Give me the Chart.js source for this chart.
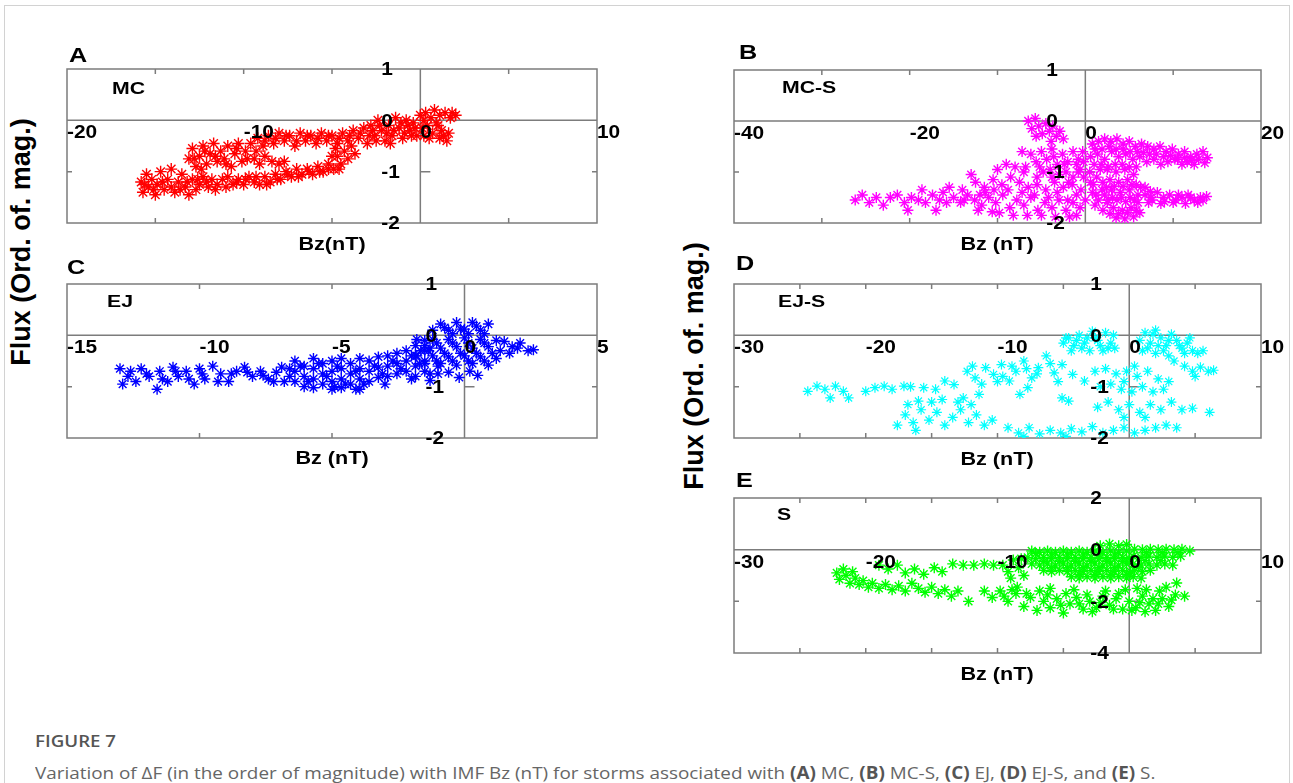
<!DOCTYPE html>
<html>
<head>
<meta charset="utf-8">
<title>Figure 7</title>
<script src="https://cdn.jsdelivr.net/npm/chart.js@4.4.0/dist/chart.umd.min.js"></script>
<style>
  html, body { margin: 0; padding: 0; background: #fff; }
  body { position: relative; width: 1293px; height: 783px; overflow: hidden; font-family: "Liberation Sans", Arial, sans-serif; }
  .frame { position: absolute; left: 4px; top: 5px; width: 1284px; height: 820px; border: 1px solid #d2d2d2; }
  .txt { position: absolute; font-weight: bold; color: #000; line-height: 1; white-space: nowrap; transform-origin: 0 0; }
  .ytitle { position: absolute; font-weight: bold; font-size: 27px; line-height: 1; white-space: nowrap; color: #000;
            transform: translate(-50%, -50%) rotate(-90deg); }
  canvas { position: absolute; }
  .fig { position: absolute; left: 35px; top: 732px; font-family: "Open Sans", sans-serif; font-size: 17px; line-height: 1;
         font-weight: 600; color: #555; transform-origin: 0 0; transform: scaleX(1.1); }
  .cap { position: absolute; left: 35px; top: 764px; font-family: "Open Sans", sans-serif; font-size: 17px; line-height: 1;
         color: #666; white-space: nowrap; transform-origin: 0 0; transform: scaleX(1.11); }
  .cap b { font-weight: 700; color: #555; }
</style>
</head>
<body>
<div class="frame"></div>
<div class="ytitle" style="left:21px; top:242px;">Flux (Ord. of. mag.)</div>
<div class="ytitle" style="left:694px; top:366px;">Flux (Ord. of. mag.)</div>
<div class="fig">FIGURE 7</div>
<div class="cap">Variation of ΔF (in the order of magnitude) with IMF Bz (nT) for storms associated with <b>(A)</b> MC, <b>(B)</b> MC-S, <b>(C)</b> EJ, <b>(D)</b> EJ-S, and <b>(E)</b> S.</div>

<script>
// ---- tick values ----
const aXTicks = [-20, -15, -10, -5, 0, 5, 10];
const aXLabels = [-20, -10, 0, 10];
const bXTicks = [-40, -30, -20, -10, 0, 10, 20];
const bXLabels = [-40, -20, 0, 20];
const cXTicks = [-15, -10, -5, 0, 5];
const cXLabels = [-15, -10, -5, 0, 5];
const deXTicks = [-30, -25, -20, -15, -10, -5, 0, 5, 10];
const deXLabels = [-30, -20, -10, 0, 10];
const fluxTicks = [-2, -1, 0, 1];
const sFluxTicks = [-4, -2, 0, 2];

// ---- (Bz, flux) points ----
const mcPoints = [
  [-15.8,-1.2],[-15.7,-1.4],[-15.5,-1.05],[-15.4,-1.3],[-15.2,-1.15],[-15.0,-1.45],[-14.9,-1.25],[-14.7,-1.0],
  [-14.5,-1.35],[-14.3,-1.15],[-14.1,-0.95],[-13.9,-1.4],[-13.7,-1.2],[-13.5,-1.05],[-13.3,-1.3],[-13.1,-1.45],
  [-12.9,-1.15],[-12.7,-1.35],[-12.5,-1.25],[-12.3,-1.1],[-12.0,-1.3],[-11.8,-1.15],[-11.5,-1.25],[-11.2,-1.15],
  [-10.9,-1.1],[-10.6,-1.25],[-10.3,-1.15],[-10.0,-1.25],[-9.7,-1.1],[-9.4,-1.2],[-9.1,-1.25],[-8.8,-1.1],
  [-8.5,-1.2],[-8.2,-1.05],[-7.9,-1.15],[-7.6,-1.0],[-7.3,-1.1],[-7.0,-0.95],[-6.7,-1.05],[-6.4,-0.95],
  [-6.1,-1.05],[-5.8,-0.9],[-5.5,-1.0],[-5.2,-0.85],[-4.9,-0.95],[-5.0,-0.7],[-4.8,-0.55],[-4.7,-0.7],
  [-4.5,-0.85],[-4.3,-0.6],[-4.1,-0.75],[-3.9,-0.5],[-3.7,-0.65],
  [-15.6,-1.25],[-15.1,-1.35],[-14.6,-1.2],[-14.1,-1.3],[-13.6,-1.35],[-13.2,-1.2],[-12.6,-1.15],[-12.1,-1.2],
  [-11.6,-1.35],[-11.0,-1.3],[-10.4,-1.2],[-9.9,-1.15],[-9.3,-1.1],[-8.7,-1.25],[-8.1,-1.15],[-7.5,-1.05],
  [-6.9,-1.1],[-6.3,-1.0],[-5.7,-1.0],[-5.2,-0.95],[-4.6,-0.95],
  [-13.1,-0.75],[-12.9,-0.55],[-12.7,-0.9],[-12.5,-0.7],[-12.3,-0.5],[-12.1,-0.85],[-11.9,-0.65],[-11.7,-0.45],
  [-11.5,-0.8],[-11.3,-0.6],[-11.1,-0.75],[-10.9,-0.5],[-10.7,-0.9],[-10.5,-0.65],[-10.3,-0.45],[-10.1,-0.8],
  [-9.9,-0.6],[-9.6,-0.45],[-9.4,-0.75],[-9.1,-0.85],[-8.8,-0.7],[-8.4,-0.8],[-8.0,-0.85],[-7.7,-0.8],
  [-12.8,-0.75],[-12.2,-0.6],[-11.6,-0.7],[-11.0,-0.85],[-10.4,-0.55],[-9.8,-0.75],[-9.3,-0.6],[-12.4,-0.95],
  [-9.2,-0.35],[-8.9,-0.5],[-8.6,-0.3],[-8.3,-0.45],[-8.0,-0.25],[-7.7,-0.4],[-7.4,-0.3],[-7.1,-0.5],
  [-6.8,-0.25],[-6.5,-0.4],[-6.2,-0.3],[-5.9,-0.45],[-5.6,-0.25],[-5.3,-0.4],[-5.0,-0.3],[-4.7,-0.45],
  [-4.4,-0.25],[-4.1,-0.4],[-3.8,-0.2],[-3.5,-0.35],[-3.2,-0.15],[-3.0,-0.45],
  [-8.8,-0.4],[-8.2,-0.35],[-7.6,-0.3],[-7.0,-0.4],[-6.4,-0.3],[-5.8,-0.35],[-5.2,-0.3],[-4.6,-0.35],
  [-4.0,-0.3],[-3.4,-0.25],[-2.9,-0.3],
  [-2.8,-0.1],[-2.6,-0.3],[-2.4,0.0],[-2.2,-0.2],[-2.0,-0.4],[-1.8,-0.1],[-1.6,-0.3],[-1.4,0.05],
  [-1.2,-0.15],[-1.0,-0.35],[-0.8,0.0],[-0.6,-0.2],[-0.4,-0.05],[-0.2,-0.3],[0.0,0.1],[0.1,-0.15],
  [-2.7,-0.2],[-2.3,-0.1],[-1.9,-0.25],[-1.5,-0.2],[-1.1,-0.05],[-0.7,-0.1],[-0.3,-0.15],[0.2,0.0],
  [-2.5,-0.4],[-1.7,-0.45],[-0.9,-0.25],[-0.5,-0.3],[0.9,-0.05],[1.8,0.15],[1.2,-0.2],[0.2,-0.3],
  [0.3,0.15],[0.6,0.05],[0.8,0.2],[1.1,0.1],[1.4,0.15],[1.7,0.05],[2.0,0.1],[0.4,-0.1],
  [0.7,-0.25],[1.0,-0.1],[1.3,-0.3],[1.6,-0.25],[0.5,-0.35],[1.1,-0.35],[1.5,-0.4]
];

const mcsPoints = [
  [-6.5,0.0],[-6.1,-0.15],[-5.7,0.05],[-5.3,-0.1],[-4.9,-0.25],[-4.5,-0.05],[-4.1,-0.2],[-3.7,-0.1],
  [-3.3,-0.3],[-2.9,-0.2],[-2.5,-0.35],[-5.6,-0.3],[-3.9,-0.4],
  [-7.2,-0.6],[-6.2,-0.65],[-5.6,-0.8],[-5.0,-0.6],[-4.4,-0.75],[-3.8,-0.55],[-3.2,-0.85],[-2.6,-0.65],
  [-2.0,-0.8],[-1.4,-0.6],[-0.8,-0.75],[-0.3,-0.6],[-4.8,-1.0],[-4.0,-0.95],[-3.0,-1.05],[-2.2,-1.0],
  [-1.4,-1.1],[-0.6,-0.95],[-5.5,-1.1],
  [-6.8,-0.9],[-5.2,-0.9],[-3.6,-0.7],[-2.4,-0.85],[-1.0,-0.85],[-0.2,-0.8],[-1.9,-1.2],[-3.8,-1.1],
  [-0.2,-1.1],[-1.0,-1.45],[-2.0,-1.55],[-3.2,-1.4],[-4.2,-1.5],[-5.8,-1.45],[-7.2,-1.4],[-8.8,-1.35],
  [-10.4,-1.35],[-12.0,-1.45],[-13.8,-1.55],[-0.8,-1.0],
  [0.8,-0.45],[1.5,-0.4],[2.2,-0.35],[2.9,-0.4],[3.6,-0.35],[4.3,-0.45],[5.0,-0.4],[5.7,-0.5],
  [6.4,-0.45],[7.1,-0.5],[7.8,-0.55],[8.5,-0.5],[9.2,-0.6],[9.9,-0.55],[10.6,-0.65],[11.3,-0.6],
  [12.0,-0.7],[12.7,-0.65],[13.4,-0.6],[13.9,-0.72],
  [0.6,-0.7],[1.4,-0.65],[2.2,-0.75],[3.0,-0.6],[3.8,-0.7],[4.6,-0.65],[5.4,-0.75],[6.2,-0.7],
  [7.0,-0.8],[7.8,-0.75],[8.6,-0.85],[9.4,-0.8],[10.2,-0.75],[11.0,-0.85],[11.6,-0.8],[12.4,-0.85],
  [1.1,-0.55],[1.9,-0.55],[2.7,-0.5],[3.5,-0.55],[4.3,-0.55],[5.1,-0.6],[5.9,-0.6],[1.0,-0.85],
  [1.8,-0.85],[2.6,-0.9],[3.4,-0.85],[4.2,-0.85],[5.0,-0.9],[5.8,-0.9],[6.6,-0.62],
  [7.3,-0.65],[8.1,-0.65],[8.9,-0.7],[9.7,-0.68],[10.5,-0.75],[11.3,-0.72],[12.1,-0.78],[12.9,-0.75],[13.6,-0.82],
  [0.5,-1.0],[1.3,-1.1],[0.9,-1.25],[1.7,-0.95],[0.6,-1.2],
  [2.5,-0.95],[3.5,-1.0],[4.5,-0.95],[5.5,-1.05],[2.8,-1.15],[3.8,-1.2],[4.8,-1.15],[5.8,-1.25],
  [3.0,-1.35],[4.0,-1.4],[5.0,-1.35],[6.0,-1.45],
  [2.0,-1.2],[2.4,-1.3],[3.3,-1.28],[4.3,-1.28],[5.3,-1.25],[6.3,-1.3],[6.8,-1.3],[7.4,-1.38],
  [0.8,-1.4],[1.5,-1.55],[2.2,-1.45],[6.8,-1.45],[7.5,-1.5],[8.2,-1.4],[8.9,-1.5],[9.6,-1.45],
  [10.3,-1.55],[11.0,-1.5],[11.7,-1.45],[12.4,-1.55],[13.1,-1.5],[13.8,-1.48],[7.2,-1.6],[8.6,-1.62],
  [10.0,-1.6],[11.4,-1.62],[12.8,-1.6],[7.6,-1.55],[9.0,-1.58],[10.6,-1.45],[12.0,-1.5],[13.4,-1.55],
  [1.2,-1.45],[1.9,-1.35],[2.6,-1.55],[3.1,-1.5],[4.1,-1.5],[5.1,-1.5],[6.0,-1.6],[1.1,-1.65],
  [2.0,-1.75],[2.5,-1.6],[3.2,-1.7],[4.2,-1.75],[5.2,-1.7],[6.2,-1.8],[3.5,-1.9],[4.5,-1.92],
  [5.5,-1.88],[3.6,-1.55],[4.6,-1.58],[5.6,-1.55],[2.8,-1.82],[3.8,-1.82],[4.8,-1.8],[5.8,-1.75],
  [-26.2,-1.55],[-25.4,-1.45],[-24.6,-1.6],[-23.8,-1.5],[-23.0,-1.65],[-22.2,-1.5],[-21.4,-1.45],[-20.6,-1.6],
  [-19.8,-1.5],[-19.0,-1.55],[-18.2,-1.6],[-17.4,-1.45],[-16.6,-1.55],[-15.8,-1.6],[-15.0,-1.5],[-14.2,-1.6],
  [-13.4,-1.45],[-12.6,-1.55],[-11.8,-1.65],[-11.0,-1.5],[-10.2,-1.6],[-9.4,-1.45],[-8.6,-1.7],[-7.8,-1.55],
  [-7.0,-1.65],[-6.2,-1.5],[-5.4,-1.75],[-4.6,-1.6],[-3.8,-1.7],[-3.0,-1.55],[-2.2,-1.75],[-1.4,-1.6],
  [-0.6,-1.7],[0.0,-1.55],
  [-20.2,-1.75],[-18.6,-1.35],[-17.0,-1.75],[-16.2,-1.4],[-12.2,-1.75],[-11.4,-1.4],[-10.6,-1.78],[-9.8,-1.8],
  [-8.2,-1.85],[-6.6,-1.85],[-5.0,-1.85],[-3.4,-1.88],[-1.8,-1.88],[-1.0,-1.85],
  [-15.5,-1.3],[-14.0,-1.35],[-12.5,-1.2],[-11.5,-1.3],[-10.5,-1.15],[-9.5,-1.25],[-8.5,-1.1],[-7.5,-1.2],
  [-6.5,-1.3],[-5.5,-1.25],[-4.5,-1.35],[-3.5,-1.2],[-2.5,-1.3],[-1.5,-1.25],[-0.5,-1.35],[-13.0,-1.05],
  [-10.0,-0.95],[-8.0,-0.9],[-7.0,-1.0],[-9.0,-0.85]
];

const ejPoints = [
  [-13.0,-0.65],[-12.9,-0.95],[-12.6,-0.7],[-12.4,-0.9],[-12.2,-0.65],[-11.9,-0.8],[-11.6,-1.05],[-11.5,-0.7],
  [-11.2,-0.9],[-11.0,-0.62],[-10.8,-0.8],[-10.5,-0.7],[-10.2,-0.95],[-10.0,-0.65],[-9.8,-0.85],[-9.5,-0.6],
  [-9.2,-0.75],[-8.9,-0.9],[-8.6,-0.7],[-8.3,-0.62],[-8.0,-0.8],[-7.7,-0.7],[-7.4,-0.85],[-7.1,-0.72],
  [-6.8,-0.9],[-6.6,-0.65],
  [-12.7,-0.8],[-12.0,-0.75],[-11.4,-0.85],[-10.9,-0.7],[-10.4,-0.85],[-9.9,-0.75],[-9.3,-0.9],[-8.8,-0.75],
  [-8.2,-0.72],[-7.6,-0.78],[-7.2,-0.9],[-6.9,-0.62],
  [-6.4,-0.5],[-6.4,-0.7],[-6.4,-0.9],[-6.05,-0.6],[-6.05,-0.8],[-6.05,-1.0],
  [-5.7,-0.45],[-5.7,-0.65],[-5.7,-0.85],[-5.7,-1.02],[-5.35,-0.55],[-5.35,-0.75],[-5.35,-0.95],
  [-5.0,-0.5],[-5.0,-0.7],[-5.0,-0.9],[-5.0,-1.05],[-4.65,-0.45],[-4.65,-0.65],[-4.65,-0.85],[-4.65,-1.02],
  [-4.3,-0.55],[-4.3,-0.75],[-4.3,-0.95],[-3.95,-0.45],[-3.95,-0.65],[-3.95,-0.85],[-3.95,-1.05],
  [-3.6,-0.5],[-3.6,-0.7],[-3.6,-0.9],[-3.25,-0.42],[-3.25,-0.62],[-3.25,-0.82],
  [-2.9,-0.4],[-2.9,-0.6],[-2.9,-0.8],[-2.55,-0.35],[-2.55,-0.55],[-2.55,-0.75],
  [-2.2,-0.3],[-2.2,-0.5],[-2.2,-0.7],[-1.85,-0.2],[-1.85,-0.4],[-1.85,-0.6],[-1.85,-0.8],
  [-1.5,-0.1],[-1.5,-0.3],[-1.5,-0.5],[-1.5,-0.7],
  [-6.2,-0.6],[-5.9,-0.9],[-5.5,-0.55],[-5.2,-0.8],[-4.8,-0.6],[-4.5,-0.95],[-4.1,-0.7],[-3.8,-0.95],
  [-3.4,-0.6],[-3.1,-0.75],[-2.7,-0.5],[-2.4,-0.65],[-2.0,-0.4],[-1.7,-0.55],[-1.3,-0.25],[-1.0,-0.6],
  [-6.6,-0.8],[-4.9,-1.0],[-4.1,-1.05],[-3.0,-0.95],[-2.0,-0.85],[-1.3,-0.75],
  [-1.2,0.1],[-0.9,0.22],[-0.6,0.1],[-0.3,0.25],[0.0,0.12],[0.3,0.25],[0.6,0.1],[0.9,0.22],
  [-0.75,0.15],[-0.15,0.12],[0.45,0.18],[-0.45,0.03],[0.15,0.03],[0.75,0.03],
  [-1.8,-0.08],[-1.5,-0.2],[-1.2,-0.08],[-0.9,-0.25],[-0.6,-0.08],[-0.3,-0.22],[0.0,-0.05],[0.3,-0.25],
  [0.6,-0.08],[0.9,-0.22],[1.2,-0.1],
  [-1.65,-0.3],[-1.35,-0.3],[-1.05,-0.15],[-0.75,-0.35],[-0.45,-0.15],[-0.15,-0.35],[0.15,-0.15],[0.45,-0.35],
  [0.75,-0.15],[1.05,-0.35],[1.35,-0.3],[2.0,-0.25],
  [-1.8,-0.4],[-1.5,-0.55],[-1.2,-0.4],[-0.9,-0.55],[-0.6,-0.42],[-0.3,-0.58],[0.0,-0.4],[0.3,-0.55],
  [0.6,-0.42],[0.9,-0.58],[1.2,-0.45],[-1.05,-0.5],[-0.45,-0.5],[0.15,-0.5],[0.75,-0.5],
  [-1.0,-0.75],[-0.6,-0.72],[-0.2,-0.82],[0.2,-0.7],[0.5,-0.78],[-1.3,-0.88],
  [1.5,-0.12],[1.8,-0.22],[2.1,-0.15],[2.4,-0.3],[2.6,-0.28],[1.7,-0.35]
];

const ejsPoints = [
  [-24.4,-1.09],[-23.7,-0.99],[-23.1,-1.05],[-22.7,-1.22],[-22.3,-0.99],[-21.7,-1.09],[-21.3,-1.22],
  [-20.0,-1.09],[-19.3,-1.02],[-18.6,-0.99],[-18.0,-1.05],[-17.1,-0.99],[-16.6,-1.0],[-16.0,-1.28],
  [-15.6,-1.02],[-14.7,-1.05],[-14.0,-0.89],[-13.3,-0.96],
  [-12.3,-0.7],[-11.7,-0.83],[-10.9,-0.63],[-10.3,-0.76],[-9.7,-0.57],[-9.1,-0.89],[-8.6,-0.7],[-8.0,-0.5],
  [-7.4,-0.83],[-6.9,-0.63],[-6.3,-0.4],[-5.7,-0.73],[-5.1,-0.57],[-4.3,-0.76],[-8.3,-1.15],[-7.7,-1.02],
  [-5.1,-1.22],[-4.6,-1.28],[-3.4,-0.89],[-11.2,-0.95],[-9.6,-0.8],
  [-8.9,-0.6],[-7.8,-0.65],[-7.0,-0.75],[-6.0,-0.55],[-5.4,-0.9],[-10.0,-0.9],[-11.9,-0.6],
  [-5.0,-0.15],[-4.6,-0.05],[-4.2,-0.2],[-3.8,0.0],[-3.4,-0.15],[-3.0,-0.3],[-2.6,-0.05],[-2.2,-0.2],
  [-1.8,0.05],[-1.4,-0.15],[-1.1,-0.25],[-4.4,-0.3],[-2.8,0.08],[-3.6,-0.25],
  [-4.8,-0.05],[-4.0,-0.1],[-3.2,-0.05],[-2.4,-0.1],[-1.6,-0.25],[-1.2,0.0],[-2.0,-0.3],
  [0.8,-0.1],[1.2,0.05],[1.6,-0.15],[2.0,0.1],[2.4,-0.05],[2.8,-0.2],[3.2,0.02],[3.6,-0.1],
  [4.0,-0.25],[4.4,-0.15],[4.8,-0.3],[5.2,-0.35],[5.6,-0.3],[1.0,-0.3],[2.0,-0.35],[3.0,-0.4],[3.4,-0.5],
  [1.4,-0.25],[2.2,-0.2],[3.0,-0.1],[3.8,-0.2],[4.6,-0.05],[1.8,0.02],[2.6,-0.3],[4.2,-0.35],
  [4.2,-0.6],[4.8,-0.7],[5.4,-0.62],[6.0,-0.7],[6.4,-0.68],[5.0,-0.8],
  [-2.6,-0.7],[-1.8,-0.65],[-1.0,-0.75],[-0.2,-0.7],[0.6,-0.8],[1.4,-0.7],[2.2,-0.85],[3.0,-0.9],
  [-2.2,-1.0],[-1.4,-0.95],[-0.6,-1.05],[0.2,-1.1],[1.0,-1.0],[1.8,-1.1],[2.6,-1.05],[0.4,-0.6],[-0.4,-0.9],
  [-2.4,-1.4],[-1.6,-1.3],[-0.8,-1.45],[0.0,-1.35],[0.8,-1.5],[1.6,-1.35],[2.4,-1.45],[3.2,-1.3],
  [4.0,-1.45],[4.8,-1.42],[6.1,-1.5],[-0.4,-1.6],[1.2,-1.6],
  [-17.6,-1.75],[-17.0,-1.55],[-16.4,-1.7],[-15.8,-1.45],[-15.2,-1.65],[-14.6,-1.5],[-14.0,-1.75],
  [-13.4,-1.6],[-12.8,-1.45],[-12.2,-1.7],[-11.6,-1.55],[-11.0,-1.75],[-10.4,-1.65],[-15.0,-1.3],
  [-14.2,-1.25],[-13.0,-1.3],[-16.2,-1.85],[-12.0,-1.35],[-16.8,-1.35],[-12.6,-1.22],[-11.4,-1.15],
  [-9.2,-1.8],[-8.4,-1.9],[-7.6,-1.8],[-6.8,-1.92],[-6.0,-1.85],[-5.2,-1.9],[-4.4,-1.82],[-3.6,-1.88],
  [-2.8,-1.78],[-2.0,-1.9],[-1.2,-1.85],[-0.4,-1.8],[0.4,-1.9],[1.2,-1.85],[2.0,-1.8],[2.8,-1.75],
  [3.6,-1.8],[-8.0,-1.97],[-4.8,-1.97]
];

const sPoints = [
  [-22.2,-0.9],[-22.0,-1.15],[-21.7,-0.75],[-21.5,-1.0],[-21.2,-1.3],[-21.0,-0.85],[-20.8,-1.1],[-20.5,-1.35],
  [-20.2,-1.2],[-19.8,-1.45],
  [-19.5,-1.3],[-19.0,-1.5],[-18.5,-1.35],[-18.0,-1.55],[-17.5,-1.4],[-17.0,-1.6],[-16.5,-1.3],[-16.0,-1.5],
  [-15.5,-1.65],[-15.0,-1.45],[-14.5,-1.7],[-14.0,-1.55],[-13.5,-1.8],[-13.0,-1.6],[-12.2,-2.0],
  [-19.0,-0.6],[-18.3,-0.75],[-17.6,-0.6],[-17.0,-0.9],[-16.3,-0.75],[-15.6,-0.95],[-14.8,-0.7],[-14.2,-0.85],
  [-13.4,-0.55],[-12.6,-0.6],[-11.8,-0.6],[-11.0,-0.55],[-10.3,-0.6],
  [-11.0,-1.6],[-10.4,-1.85],[-9.8,-1.6],[-9.2,-2.0],[-8.6,-1.7],[-8.0,-2.2],[-7.5,-1.85],[-7.0,-2.35],
  [-6.5,-2.0],[-6.0,-2.25],[-5.5,-1.9],[-5.0,-2.45],[-4.5,-2.1],[-4.0,-1.85],[-3.5,-2.3],[-3.0,-2.0],
  [-2.5,-2.25],[-2.0,-1.8],[-1.5,-2.15],[-1.0,-1.9],[-0.5,-2.3],[0.0,-2.0],[0.5,-2.25],[1.0,-1.8],
  [1.5,-2.1],[2.0,-2.35],[2.5,-1.9],[3.0,-2.2],[3.5,-1.75],[4.2,-1.8],[-8.5,-1.45],[-6.8,-1.6],
  [-4.2,-1.55],[-1.8,-1.6],[0.6,-1.5],[2.8,-1.45],[3.6,-1.29],
  [-9.5,-1.8],[-8.9,-1.55],[-7.8,-1.7],[-6.2,-1.75],[-5.2,-2.15],[-4.8,-1.7],[-3.2,-1.75],[-2.8,-2.4],
  [-2.2,-2.05],[-1.2,-2.3],[-0.8,-1.7],[0.2,-2.35],[0.8,-2.05],[1.2,-2.4],[1.8,-1.9],[2.2,-2.1],
  [3.2,-1.95],[-0.3,-1.55],[1.3,-1.55],[2.3,-1.6],[-6.0,-1.5],[-3.8,-2.1],
  [-2.2,0.15],[-1.5,0.22],[-0.8,0.15],[-0.2,0.2],
  [-7.4,-0.05],[-6.8,-0.1],[-6.2,-0.05],[-5.6,-0.1],[-5.0,-0.05],[-4.4,-0.1],[-3.8,-0.05],[-3.2,-0.1],
  [-2.6,-0.05],[-2.0,-0.1],[-1.4,-0.05],[-0.8,-0.1],[-0.2,-0.05],
  [-7.1,-0.15],[-5.9,-0.2],[-4.7,-0.2],[-3.5,-0.2],[-2.3,-0.2],[-1.1,-0.2],
  [-7.7,-0.3],[-7.1,-0.35],[-6.5,-0.3],[-5.9,-0.35],[-5.3,-0.3],[-4.7,-0.35],[-4.1,-0.3],[-3.5,-0.35],
  [-2.9,-0.3],[-2.3,-0.35],[-1.7,-0.3],[-1.1,-0.35],[-0.5,-0.3],[0.0,-0.35],
  [-6.5,-0.45],[-5.3,-0.45],[-4.1,-0.45],[-2.9,-0.45],[-1.7,-0.45],[-0.5,-0.45],
  [-7.4,-0.55],[-6.8,-0.6],[-6.2,-0.55],[-5.6,-0.6],[-5.0,-0.55],[-4.4,-0.6],[-3.8,-0.55],[-3.2,-0.6],
  [-2.6,-0.55],[-2.0,-0.6],[-1.4,-0.55],[-0.8,-0.6],[-0.2,-0.55],
  [-5.9,-0.7],[-4.7,-0.7],[-3.5,-0.7],[-2.3,-0.7],[-1.1,-0.7],
  [-6.5,-0.8],[-5.9,-0.85],[-5.3,-0.8],[-4.7,-0.85],[-4.1,-0.8],[-3.5,-0.85],[-2.9,-0.8],[-2.3,-0.85],
  [-1.7,-0.8],[-1.1,-0.85],[-0.5,-0.8],[0.1,-0.85],
  [-3.8,-0.95],[-2.6,-0.95],[-1.4,-0.95],[-0.2,-0.95],
  [-4.4,-1.05],[-3.8,-1.1],[-3.2,-1.05],[-2.6,-1.1],[-2.0,-1.05],[-1.4,-1.1],[-0.8,-1.05],[-0.2,-1.1],
  [-9.6,-0.6],[-9.2,-0.85],[-8.8,-0.4],[-8.4,-0.7],[-8.0,-1.0],[-8.2,-0.35],[-9.0,-1.1],
  [0.4,0.02],[1.0,0.0],[1.6,0.02],[2.2,0.0],[2.8,0.02],[3.4,0.0],[4.0,0.02],[4.6,-0.05],
  [1.3,-0.12],[2.5,-0.12],[3.7,-0.12],
  [0.3,-0.25],[0.9,-0.3],[1.5,-0.25],[2.1,-0.3],[2.7,-0.25],[3.3,-0.3],[3.9,-0.25],
  [1.2,-0.42],[2.4,-0.42],
  [0.3,-0.55],[0.9,-0.6],[1.5,-0.55],[2.1,-0.6],[2.7,-0.55],[3.3,-0.6],
  [0.7,-0.68],[0.4,-0.8],[1.0,-0.85],[1.6,-0.8],[0.3,-1.05],[0.9,-1.1]
];

// ---- panel layout ----
const panels = [
  { box: [67, 69, 597, 223], xRange: [-20, 10], yRange: [-2, 1], xTicks: aXTicks, xLabels: aXLabels,
    yTicks: fluxTicks, points: mcPoints, color: '#ff0000', r: 6, w: 1.4 },
  { box: [734, 70, 1261, 223], xRange: [-40, 20], yRange: [-2, 1], xTicks: bXTicks, xLabels: bXLabels,
    yTicks: fluxTicks, points: mcsPoints, color: '#ff00ff', r: 5.5, w: 1.4 },
  { box: [67, 284, 597, 438], xRange: [-15, 5], yRange: [-2, 1], xTicks: cXTicks, xLabels: cXLabels,
    yTicks: fluxTicks, points: ejPoints, color: '#0000ff', r: 5.5, w: 1.4 },
  { box: [734, 284, 1261, 438], xRange: [-30, 10], yRange: [-2, 1], xTicks: deXTicks, xLabels: deXLabels,
    yTicks: fluxTicks, points: ejsPoints, color: '#00ffff', r: 5, w: 1.2 },
  { box: [734, 498, 1261, 653], xRange: [-30, 10], yRange: [-4, 2], xTicks: deXTicks, xLabels: deXLabels,
    yTicks: sFluxTicks, points: sPoints, color: '#00ff00', r: 5.5, w: 1.4 }
];

// text: [string, x, baseline, size, stretch, centered]
const texts = [
  ['A', 69, 62, 21, 1.2], ['B', 739, 59, 21, 1.2], ['C', 67, 274, 21, 1.2], ['D', 736, 270, 21, 1.2], ['E', 736, 487, 21, 1.2],
  ['MC', 112, 94, 17, 1.25], ['MC-S', 782, 93, 17, 1.25], ['EJ', 107, 307, 17, 1.25], ['EJ-S', 778, 307, 17, 1.25], ['S', 777, 520, 17, 1.25],
  ['Bz(nT)', 332, 250, 18, 1.2, true], ['Bz (nT)', 997, 250, 18, 1.2, true], ['Bz (nT)', 332, 464, 18, 1.2, true],
  ['Bz (nT)', 997, 465, 18, 1.2, true], ['Bz (nT)', 997, 680, 18, 1.2, true]
];

function addText(str, x, base, size, stretch, centered) {
  const el = document.createElement('div');
  el.className = 'txt';
  el.textContent = str;
  el.style.fontSize = size + 'px';
  el.style.left = x + 'px';
  el.style.top = (base - 0.85 * size).toFixed(1) + 'px';
  if (centered) {
    el.style.transformOrigin = '50% 0';
    el.style.transform = 'translateX(-50%) scaleX(' + stretch + ')';
  } else {
    el.style.transform = 'scaleX(' + stretch + ')';
  }
  document.body.appendChild(el);
}

// box, crossing axes through the origin, and tick labels (MATLAB style)
function originAxes(p) {
  return {
    id: 'originAxes',
    beforeDatasetsDraw(chart) {
      const { ctx, chartArea: a, scales: { x, y } } = chart;
      const x0 = x.getPixelForValue(0), y0 = y.getPixelForValue(0);
      ctx.save();
      ctx.strokeStyle = '#7c7c7c';
      ctx.lineWidth = 1.5;
      ctx.strokeRect(a.left, a.top, a.right - a.left, a.bottom - a.top);
      ctx.beginPath();
      ctx.moveTo(a.left, y0); ctx.lineTo(a.right, y0);
      ctx.moveTo(x0, a.top); ctx.lineTo(x0, a.bottom);
      p.xTicks.forEach(v => {
        if (v === 0 || v === p.xRange[0] || v === p.xRange[1]) return;
        const px = x.getPixelForValue(v);
        ctx.moveTo(px, a.top); ctx.lineTo(px, a.top + 5);
        ctx.moveTo(px, a.bottom); ctx.lineTo(px, a.bottom - 5);
      });
      p.yTicks.forEach(v => {
        if (v === 0 || v === p.yRange[0] || v === p.yRange[1]) return;
        const py = y.getPixelForValue(v);
        ctx.moveTo(a.left, py); ctx.lineTo(a.left + 5, py);
        ctx.moveTo(a.right, py); ctx.lineTo(a.right - 5, py);
        ctx.moveTo(x0, py); ctx.lineTo(x0 + 10, py);
      });
      ctx.stroke();
      ctx.restore();
    },
    afterDatasetsDraw(chart) {
      const { ctx, scales: { x, y } } = chart;
      const x0 = x.getPixelForValue(0), y0 = y.getPixelForValue(0);
      const put = (s, px, py) => {
        ctx.save();
        ctx.translate(px, py);
        ctx.scale(1.1, 1);
        ctx.fillText(s, 0, 0);
        ctx.restore();
      };
      ctx.save();
      ctx.fillStyle = '#000';
      ctx.font = 'bold 19px "Liberation Sans", Arial, sans-serif';
      ctx.textAlign = 'left';
      ctx.textBaseline = 'alphabetic';
      p.xLabels.forEach(v => put(String(v), x.getPixelForValue(v), y0 + 18));
      ctx.textBaseline = 'middle';
      p.yTicks.forEach(v => put(String(v), x0 - 39, y.getPixelForValue(v) + 1));
      ctx.restore();
    }
  };
}

const PAD = { left: 10, top: 12, right: 45, bottom: 12 };

panels.forEach(p => {
  const [l, t, r, b] = p.box;
  const cv = document.createElement('canvas');
  cv.width = (r - l) + PAD.left + PAD.right;
  cv.height = (b - t) + PAD.top + PAD.bottom;
  cv.style.left = (l - PAD.left) + 'px';
  cv.style.top = (t - PAD.top) + 'px';
  document.body.appendChild(cv);

  new Chart(cv.getContext('2d'), {
    type: 'scatter',
    data: {
      datasets: [{
        data: p.points.map(([bz, f]) => ({ x: bz, y: f })),
        pointStyle: 'star',
        pointRadius: p.r,
        pointBorderWidth: p.w,
        pointBorderColor: p.color,
        pointBackgroundColor: p.color,
        showLine: false
      }]
    },
    options: {
      responsive: false,
      animation: false,
      events: [],
      layout: { padding: PAD },
      scales: {
        x: { type: 'linear', min: p.xRange[0], max: p.xRange[1], display: false },
        y: { type: 'linear', min: p.yRange[0], max: p.yRange[1], display: false }
      },
      plugins: { legend: { display: false }, tooltip: { enabled: false } }
    },
    plugins: [originAxes(p)]
  });
});

texts.forEach(t => addText(...t));
</script>
</body>
</html>
